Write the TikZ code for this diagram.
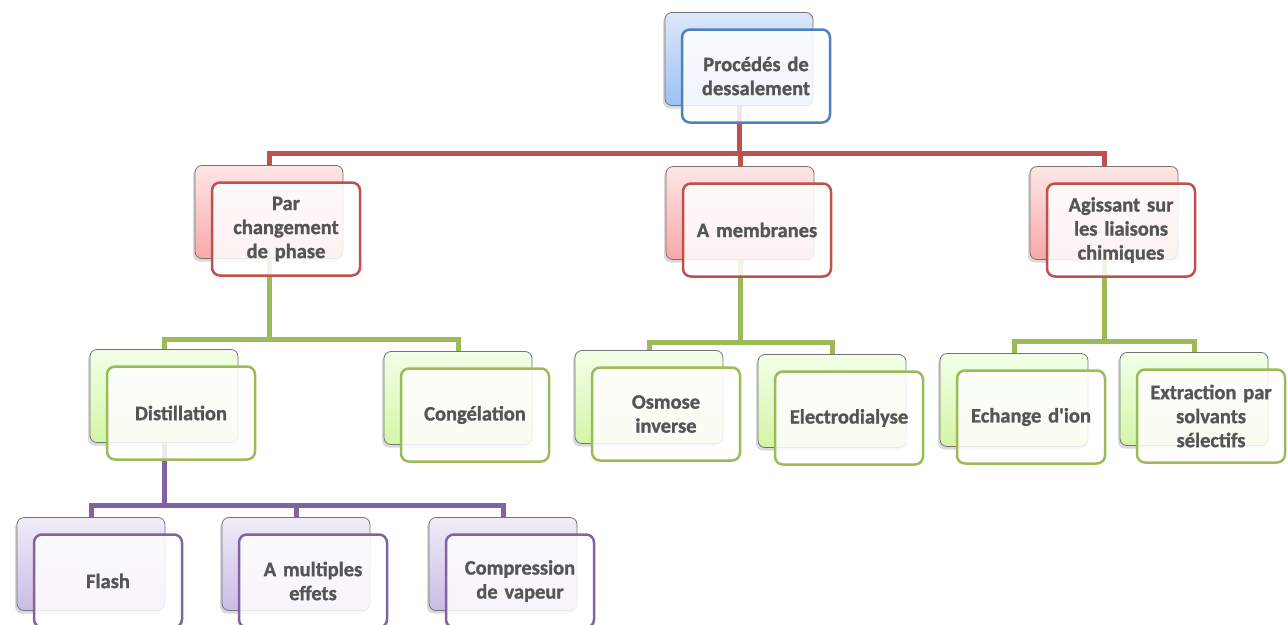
\documentclass[tikz,border=0pt]{standalone}
\usepackage{fontspec}
\setmainfont{Carlito}[Ligatures=TeXOff, BoldFeatures={FakeBold=1.2}]
\usetikzlibrary{shadows,backgrounds}
\definecolor{txt}{HTML}{555555}
\definecolor{blue}{HTML}{4F81BD}
\definecolor{blueT}{HTML}{DDE8FA}
\definecolor{blueB}{HTML}{9EC0F5}
\definecolor{red}{HTML}{C0504D}
\definecolor{redT}{HTML}{FFE6E6}
\definecolor{redB}{HTML}{F7A8A8}
\definecolor{green}{HTML}{9BBB59}
\definecolor{greenT}{HTML}{F3FFE8}
\definecolor{greenB}{HTML}{D4F5A8}
\definecolor{purple}{HTML}{8064A2}
\definecolor{purpleT}{HTML}{F1ECF8}
\definecolor{purpleB}{HTML}{CBBBE6}
\tikzset{
  backbox/.style={draw=black!55, line width=0.8pt, rounded corners=7pt,
    minimum width=148pt, minimum height=93pt, inner sep=0pt,
    drop shadow={shadow xshift=-2pt, shadow yshift=-3pt, opacity=0.3}},
  frontbox/.style={draw=#1, line width=2.5pt, rounded corners=8pt,
    fill=white, fill opacity=0.85, text opacity=1,
    minimum width=148pt, minimum height=93pt, inner sep=0pt,
    align=center, text width=146pt, text=txt,
    font=\bfseries\fontsize{20.5}{24}\selectfont},
  conn/.style={line width=5pt, draw=#1},
}
\newcommand\dbox[5]{%
  \node[backbox, top color=#4T, bottom color=#4B] (#1B) at (#2-17,#3-17) {};
  \node[frontbox=#4] (#1) at (#2,#3) {#5};
}
\begin{document}
\begin{tikzpicture}[x=1pt,y=-1pt]
\useasboundingbox (0,0) rectangle (1288,624);
\clip (0,0) rectangle (1288,624);
% boxes
\dbox{root}{756}{76}{blue}{Procédés de\\dessalement}
\dbox{par}{286}{229}{red}{Par\\changement\\de phase}
\dbox{mem}{757}{230}{red}{A membranes}
\dbox{agi}{1121}{230}{red}{Agissant sur\\les liaisons\\chimiques}
\dbox{dist}{181}{413}{green}{Distillation}
\dbox{cong}{475}{415}{green}{Congélation}
\dbox{osm}{666}{414}{green}{Osmose\\inverse}
\dbox{elec}{849}{418}{green}{Electrodialyse}
\dbox{ech}{1031}{417}{green}{Echange d'ion}
\dbox{ext}{1211}{416}{green}{Extraction par\\solvants\\sélectifs}
\dbox{flash}{108}{581}{purple}{Flash}
\dbox{multi}{313}{581}{purple}{A multiples\\effets}
\dbox{comp}{520}{581}{purple}{Compression\\de vapeur}
% connectors
\begin{pgfonlayer}{background}
\coordinate (rbus) at (740,153);
\draw[conn=red] (rootB.south) -- (rootB.south |- rbus);
\draw[conn=red] (parB.north) |- (rbus) -| (agiB.north);
\draw[conn=red] (memB.north) -- (memB.north |- rbus);
\coordinate (g1) at (269,339);
\draw[conn=green] (parB.south) -- (parB.south |- g1);
\draw[conn=green] (distB.north) |- (g1) -| (congB.north);
\coordinate (g2) at (741,342);
\draw[conn=green] (memB.south) -- (memB.south |- g2);
\draw[conn=green] (osmB.north) |- (g2) -| (elecB.north);
\coordinate (g3) at (1105,341);
\draw[conn=green] (agiB.south) -- (agiB.south |- g3);
\draw[conn=green] (echB.north) |- (g3) -| (extB.north);
\coordinate (p1) at (164,505);
\draw[conn=purple] (distB.south) -- (distB.south |- p1);
\draw[conn=purple] (flashB.north) |- (p1) -| (compB.north);
\draw[conn=purple] (multiB.north) -- (multiB.north |- p1);
\end{pgfonlayer}
\end{tikzpicture}
\end{document}
